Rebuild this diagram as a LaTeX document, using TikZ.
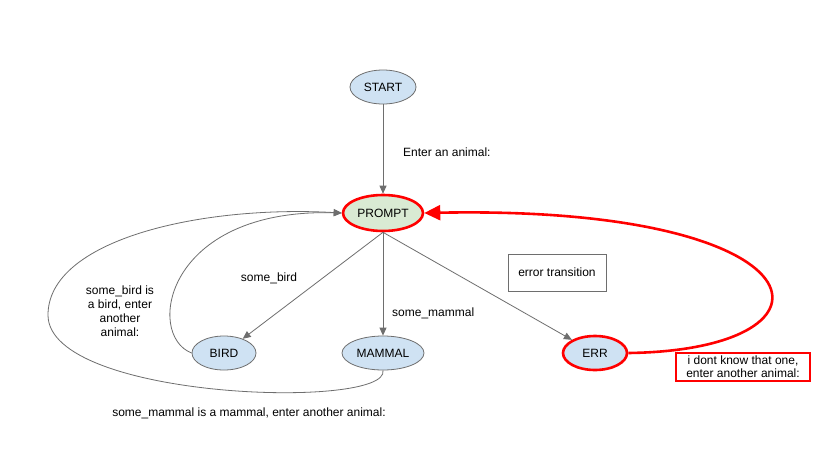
\documentclass[tikz,border=0pt]{standalone}
\usepackage{fontspec}
\setmainfont{Liberation Sans}
\usetikzlibrary{arrows.meta}
\usetikzlibrary{shapes.geometric}

\definecolor{lineg}{HTML}{6E6E6E}
\definecolor{stateblue}{HTML}{CFE2F3}
\definecolor{stategreen}{HTML}{D9EAD3}
\definecolor{errred}{HTML}{FF0000}

\tikzset{
    state/.style={ellipse, draw=lineg, fill=stateblue, line width=0.8pt,
        minimum width=64pt, minimum height=34pt, inner sep=0pt,
        font=\fontsize{12}{14}\selectfont},
    hot/.style={draw=errred, line width=2.6pt},
    trans/.style={draw=lineg, line width=0.8pt, -{Triangle[length=8pt,width=7pt]}},
    loopback/.style={draw=lineg, line width=0.8pt},
    errtrans/.style={draw=errred, line width=2.6pt, -{Triangle[length=16pt,width=15pt]}},
    lbl/.style={inner sep=0pt, font=\fontsize{12}{14}\selectfont, align=center}
}

\begin{document}
\begin{tikzpicture}[x=1pt,y=-1pt]
        \useasboundingbox[fill=white] (0,0) rectangle (828,448);

        \node[state, minimum width=66pt] (start) at (383,87) {START};
        \node[state, hot, fill=stategreen, minimum width=80pt, minimum height=36pt] (prompt) at (383,213) {PROMPT};
        \node[state] (bird) at (224,353) {BIRD};
        \node[state, minimum width=82pt] (mammal) at (383,353) {MAMMAL};
        \node[state, hot] (err) at (595,353) {ERR};

        \draw[trans] (start) -- (prompt);
        \foreach \kid in {bird,mammal,err}
            \draw[trans] (prompt.south) -- (\kid);

        % answers that send the user back to the prompt
        \draw[loopback, -{Triangle[length=8pt,width=7pt]}] (bird.west)
            .. controls (145,335) and (165,208) .. (prompt.west);
        \draw[loopback, -{Triangle[length=8pt,width=7pt]}] (mammal.south)
            .. controls (390,410) and (48,400) .. (48,315)
            .. controls (48,240) and (200,205) .. (prompt.west);
        \draw[errtrans] (err.east)
            .. controls (855,350) and (830,205) .. (prompt.east);

        \node[lbl, anchor=west] (enter) at (403,152) {Enter an animal:};
        \node[lbl] (birdlbl) at (269,278) {some\_bird};
        \node[lbl, anchor=west] (mammallbl) at (392,313) {some\_mammal};
        \node[lbl] (birdmsg) at (120,311)
            {some\_bird is\\a bird, enter\\another\\animal:};
        \node[lbl] (mammalmsg) at (249,413)
            {some\_mammal is a mammal, enter another animal:};

        \node[lbl, draw=lineg, line width=0.8pt, minimum width=98pt, minimum height=37pt]
            (errbox) at (557,272.5) {error transition};
        \node[lbl, draw=errred, line width=2.4pt, minimum width=134pt, minimum height=28pt,
            font=\fontsize{12}{13}\selectfont]
            (errmsg) at (743,367) {i dont know that one,\\enter another animal:};
    \end{tikzpicture}
\end{document}
